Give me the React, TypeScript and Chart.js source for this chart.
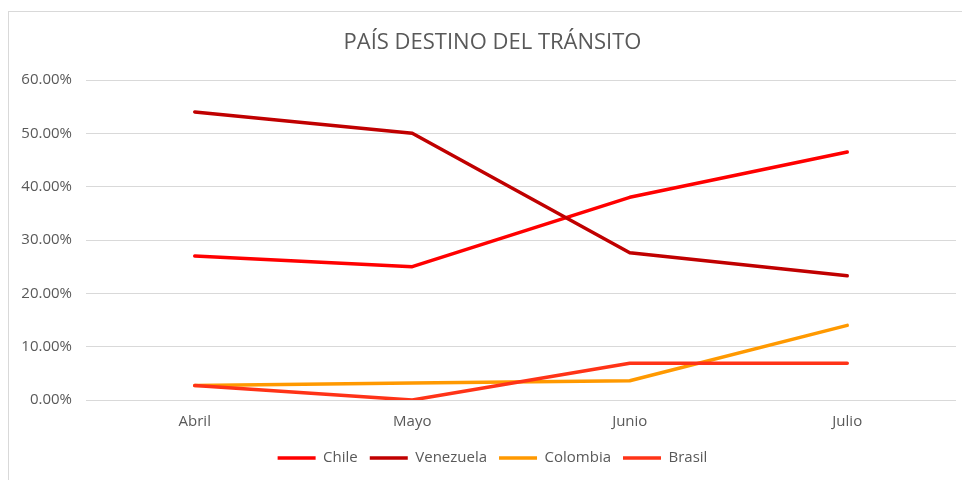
import React, { useEffect, useRef } from "react";
import { Chart, registerables } from "chart.js";

Chart.register(...registerables);

const categories = ["Abril", "Mayo", "Junio", "Julio"];
const chile = [27.0, 25.0, 38.0, 46.5];
const venezuela = [54.0, 50.0, 27.6, 23.3];
const colombia = [2.7, 3.2, 3.6, 14.0];
const brasil = [2.7, 0.0, 6.9, 6.9];
const seriesNames = ["Chile", "Venezuela", "Colombia", "Brasil"];
const seriesColors = ["#FF0000", "#C00000", "#FF9900", "#FF3317"];
const yTicks = [0, 10, 20, 30, 40, 50, 60];

const FONT = "'Open Sans', 'Liberation Sans', sans-serif";
const TEXT = "#595959";
const GRID = "#D9D9D9";

// Shift the title and legend boxes so they are centred like the original (which centres on the whole frame)
const centreShift = {
  id: "centreShift",
  afterLayout(chart: any) {
    const d = 10;
    if (chart.titleBlock) {
      chart.titleBlock.left += d;
      chart.titleBlock.right += d;
    }
    if (chart.legend) {
      chart.legend.left += d;
      chart.legend.right += d;
    }
  },
};

export default function App() {
  const ref = useRef<HTMLCanvasElement | null>(null);
  useEffect(() => {
    if (!ref.current) return;
    const values = [chile, venezuela, colombia, brasil];
    const chart = new Chart(ref.current, {
      type: "line",
      data: {
        labels: categories,
        datasets: values.map((v, i) => ({
          label: seriesNames[i],
          data: v,
          borderColor: seriesColors[i],
          backgroundColor: seriesColors[i],
          borderWidth: 3.5,
          pointRadius: 0,
          pointHoverRadius: 0,
          tension: 0,
          borderCapStyle: "round" as const,
          borderJoinStyle: "round" as const,
          order: values.length - i,
        })),
      },
      options: {
        responsive: false,
        animation: false,
        layout: { padding: { left: 0, right: 6, top: 0, bottom: 4.5 } },
        plugins: {
          title: {
            display: true,
            text: "PAÍS DESTINO DEL TRÁNSITO",
            color: TEXT,
            font: { family: FONT, size: 22, weight: "normal" },
            padding: { top: 18, bottom: 23.6 },
          },
          legend: {
            position: "bottom",
            labels: {
              color: TEXT,
              font: { family: FONT, size: 15 },
              usePointStyle: true,
              pointStyle: "line",
              pointStyleWidth: 38,
              padding: 12,
              sort: (a: any, b: any) => a.datasetIndex - b.datasetIndex,
            },
          },
          tooltip: { enabled: false },
        },
        scales: {
          x: {
            offset: true,
            grid: { display: false, drawTicks: false },
            border: { display: false },
            ticks: { color: TEXT, font: { family: FONT, size: 15 }, padding: 13 },
            afterFit: (s: any) => {
              s.height = 38.5;
            },
          },
          y: {
            min: 0,
            max: 60,
            afterBuildTicks: (s: any) => {
              s.ticks = yTicks.map((v) => ({ value: v }));
            },
            afterFit: (s: any) => {
              s.width = 77;
            },
            grid: { color: GRID, lineWidth: 1, drawTicks: false },
            border: { display: false },
            ticks: {
              color: TEXT,
              font: { family: FONT, size: 15 },
              padding: 14,
              callback: (v: any) => Number(v).toFixed(2) + "%",
            },
          },
        },
      },
      plugins: [centreShift],
    });
    return () => chart.destroy();
  }, []);

  return (
    <div
      style={{
        position: "fixed",
        left: 8,
        top: 11,
        width: 954,
        height: 469,
        borderTop: "1px solid #D9D9D9",
        borderLeft: "1px solid #D9D9D9",
        background: "#fff",
        overflow: "hidden",
      }}
    >
      <canvas ref={ref} width={953} height={468} style={{ display: "block" }} />
    </div>
  );
}
